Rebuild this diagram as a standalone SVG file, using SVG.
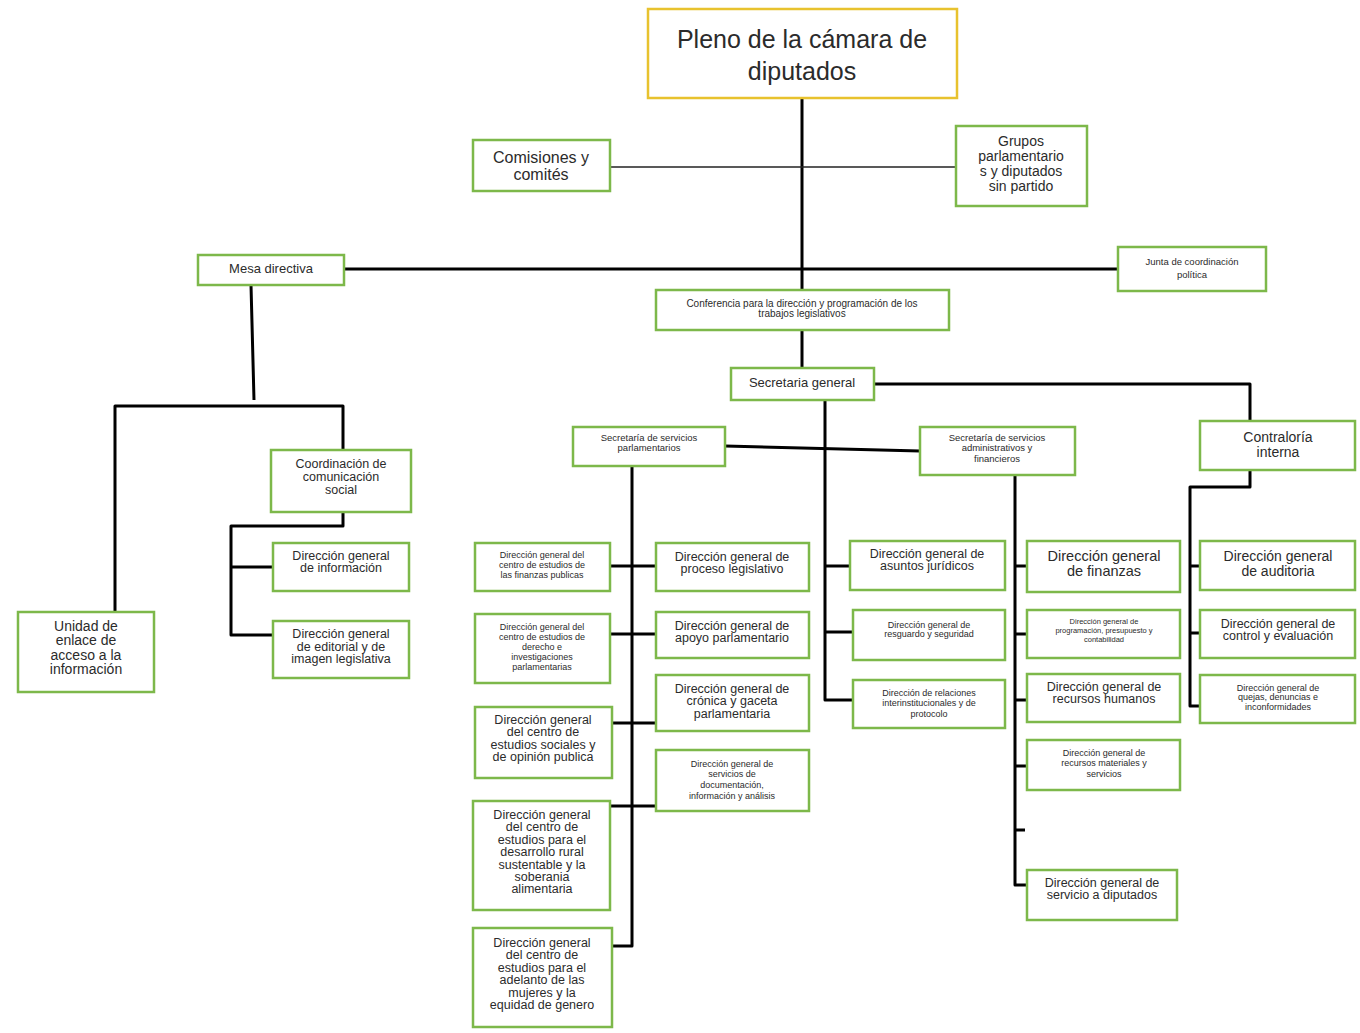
<svg xmlns="http://www.w3.org/2000/svg" width="1360" height="1033" viewBox="0 0 1360 1033">
<style>
.b{fill:#fff;stroke:#7db84a;stroke-width:2.5}
.y{fill:#fff;stroke:#e8c22e;stroke-width:2.5}
text{font-family:"Liberation Sans",Arial,sans-serif;fill:#2b2b2b;text-anchor:middle}
.c{fill:none;stroke:#000;stroke-width:3;stroke-linejoin:round}
.t{fill:none;stroke:#222;stroke-width:1.5}
</style>
<rect width="1360" height="1033" fill="#fff"/>
<g id="connectors">
<path class="c" d="M802 98V290M802 330V368"/>
<path class="t" d="M610 167H956"/>
<path class="c" d="M344 269H1118"/>
<path class="c" d="M874 384H1250V421"/>
<path class="c" d="M1250 470V487H1190V706H1200M1190 566H1200M1190 633H1200"/>
<path class="c" d="M825 400V700H853M825 566H850M825 632H853"/>
<path class="c" d="M725 446L920 451"/>
<path class="c" d="M632 466V946H612M610 566H656M610 634H656M612 723H656M610 806H656"/>
<path class="c" d="M1015 475V885H1027M1015 566H1027M1015 634H1027M1015 700H1027M1015 766H1027M1015 830H1025"/>
<path class="c" d="M251 285L254 400M115 612V406H343V450"/>
<path class="c" d="M343 512V526H231V635H273M231 567H273"/>
</g>
<g id="pleno"><rect class="y" x="648" y="9" width="309" height="89"/><text font-size="25" x="802" y="48">Pleno de la cámara de</text><text font-size="25" x="802" y="80">diputados</text></g>
<g id="comisiones"><rect class="b" x="473" y="140" width="137" height="51"/><text font-size="16" x="541" y="163">Comisiones y</text><text font-size="16" x="541" y="180">comités</text></g>
<g id="grupos"><rect class="b" x="956" y="126" width="131" height="80"/><text font-size="14" x="1021" y="146">Grupos</text><text font-size="14" x="1021" y="161">parlamentario</text><text font-size="14" x="1021" y="176">s y diputados</text><text font-size="14" x="1021" y="191">sin partido</text></g>
<g id="mesa"><rect class="b" x="198" y="255" width="146" height="30"/><text font-size="13" x="271" y="273">Mesa directiva</text></g>
<g id="junta"><rect class="b" x="1118" y="247" width="148" height="44"/><text font-size="9.5" x="1192" y="265">Junta de coordinación</text><text font-size="9.5" x="1192" y="278">política</text></g>
<g id="conferencia"><rect class="b" x="656" y="290" width="293" height="40"/><text font-size="10" x="802" y="307">Conferencia  para la dirección  y programación  de los</text><text font-size="10" x="802" y="317">trabajos  legislativos</text></g>
<g id="secgeneral"><rect class="b" x="731" y="368" width="143" height="32"/><text font-size="13" x="802" y="387">Secretaria general</text></g>
<g id="secparl"><rect class="b" x="573" y="427" width="152" height="39"/><text font-size="9.5" x="649" y="441">Secretaría  de servicios</text><text font-size="9.5" x="649" y="451">parlamentarios</text></g>
<g id="secadmin"><rect class="b" x="920" y="427" width="155" height="48"/><text font-size="9.5" x="997" y="441">Secretaría  de servicios</text><text font-size="9.5" x="997" y="451">administrativos  y</text><text font-size="9.5" x="997" y="462">financieros</text></g>
<g id="contraloria"><rect class="b" x="1200" y="421" width="155" height="49"/><text font-size="14" x="1278" y="442">Contraloría</text><text font-size="14" x="1278" y="457">interna</text></g>
<g id="auditoria"><rect class="b" x="1200" y="541" width="155" height="49"/><text font-size="14" x="1278" y="561">Dirección general</text><text font-size="14" x="1278" y="576">de auditoria</text></g>
<g id="control"><rect class="b" x="1200" y="610" width="155" height="48"/><text font-size="12.5" x="1278" y="628">Dirección general de</text><text font-size="12.5" x="1278" y="640">control y evaluación</text></g>
<g id="quejas"><rect class="b" x="1200" y="675" width="155" height="48"/><text font-size="9" x="1278" y="691">Dirección  general de</text><text font-size="9" x="1278" y="700">quejas,  denuncias  e</text><text font-size="9" x="1278" y="710">inconformidades</text></g>
<g id="juridicos"><rect class="b" x="850" y="541" width="155" height="49"/><text font-size="12.5" x="927" y="558">Dirección general de</text><text font-size="12.5" x="927" y="570">asuntos jurídicos</text></g>
<g id="resguardo"><rect class="b" x="853" y="610" width="152" height="50"/><text font-size="9" x="929" y="628">Dirección  general  de</text><text font-size="9" x="929" y="637">resguardo  y seguridad</text></g>
<g id="relaciones"><rect class="b" x="853" y="680" width="152" height="48"/><text font-size="9" x="929" y="696">Dirección  de relaciones</text><text font-size="9" x="929" y="706">interinstitucionales  y de</text><text font-size="9" x="929" y="717">protocolo</text></g>
<g id="finanzas"><rect class="b" x="1027" y="541" width="153" height="51"/><text font-size="14.5" x="1104" y="561">Dirección general</text><text font-size="14.5" x="1104" y="576">de finanzas</text></g>
<g id="programacion"><rect class="b" x="1027" y="610" width="153" height="48"/><text font-size="7.5" x="1104" y="624">Dirección  general de</text><text font-size="7.5" x="1104" y="633">programación,  presupuesto  y</text><text font-size="7.5" x="1104" y="642">contabilidad</text></g>
<g id="rrhh"><rect class="b" x="1027" y="674" width="153" height="48"/><text font-size="12.5" x="1104" y="691">Dirección general de</text><text font-size="12.5" x="1104" y="703">recursos humanos</text></g>
<g id="materiales"><rect class="b" x="1027" y="740" width="153" height="50"/><text font-size="9" x="1104" y="756">Dirección  general  de</text><text font-size="9" x="1104" y="766">recursos  materiales  y</text><text font-size="9" x="1104" y="777">servicios</text></g>
<g id="servicio"><rect class="b" x="1027" y="870" width="150" height="50"/><text font-size="12.5" x="1102" y="887">Dirección general de</text><text font-size="12.5" x="1102" y="899">servicio a diputados</text></g>
<g id="finpub"><rect class="b" x="475" y="543" width="135" height="48"/><text font-size="9" x="542" y="558">Dirección  general  del</text><text font-size="9" x="542" y="568">centro  de estudios  de</text><text font-size="9" x="542" y="578">las finanzas publicas</text></g>
<g id="derecho"><rect class="b" x="475" y="614" width="135" height="69"/><text font-size="9" x="542" y="630">Dirección  general  del</text><text font-size="9" x="542" y="640">centro  de estudios  de</text><text font-size="9" x="542" y="650">derecho  e</text><text font-size="9" x="542" y="660">investigaciones</text><text font-size="9" x="542" y="670">parlamentarias</text></g>
<g id="sociales"><rect class="b" x="475" y="707" width="137" height="71"/><text font-size="12.5" x="543" y="724">Dirección general</text><text font-size="12.5" x="543" y="736">del centro de</text><text font-size="12.5" x="543" y="749">estudios sociales y</text><text font-size="12.5" x="543" y="761">de opinión publica</text></g>
<g id="rural"><rect class="b" x="473" y="801" width="137" height="109"/><text font-size="12.5" x="542" y="819">Dirección general</text><text font-size="12.5" x="542" y="831">del centro de</text><text font-size="12.5" x="542" y="844">estudios para el</text><text font-size="12.5" x="542" y="856">desarrollo rural</text><text font-size="12.5" x="542" y="869">sustentable y la</text><text font-size="12.5" x="542" y="881">soberania</text><text font-size="12.5" x="542" y="893">alimentaria</text></g>
<g id="mujeres"><rect class="b" x="473" y="928" width="139" height="99"/><text font-size="12.5" x="542" y="947">Dirección general</text><text font-size="12.5" x="542" y="959">del centro de</text><text font-size="12.5" x="542" y="972">estudios para el</text><text font-size="12.5" x="542" y="984">adelanto de las</text><text font-size="12.5" x="542" y="997">mujeres y la</text><text font-size="12.5" x="542" y="1009">equidad de genero</text></g>
<g id="proceso"><rect class="b" x="656" y="543" width="153" height="48"/><text font-size="12.5" x="732" y="561">Dirección general de</text><text font-size="12.5" x="732" y="573">proceso legislativo</text></g>
<g id="apoyo"><rect class="b" x="656" y="612" width="153" height="46"/><text font-size="12.5" x="732" y="630">Dirección general de</text><text font-size="12.5" x="732" y="642">apoyo parlamentario</text></g>
<g id="cronica"><rect class="b" x="656" y="675" width="153" height="56"/><text font-size="12.5" x="732" y="693">Dirección general de</text><text font-size="12.5" x="732" y="705">crónica y gaceta</text><text font-size="12.5" x="732" y="718">parlamentaria</text></g>
<g id="documentacion"><rect class="b" x="656" y="750" width="153" height="61"/><text font-size="9" x="732" y="767">Dirección  general  de</text><text font-size="9" x="732" y="777">servicios  de</text><text font-size="9" x="732" y="788">documentación,</text><text font-size="9" x="732" y="799">información  y análisis</text></g>
<g id="coordinacion"><rect class="b" x="271" y="450" width="140" height="62"/><text font-size="12.5" x="341" y="468">Coordinación de</text><text font-size="12.5" x="341" y="481">comunicación</text><text font-size="12.5" x="341" y="494">social</text></g>
<g id="informacion"><rect class="b" x="273" y="543" width="136" height="48"/><text font-size="12.5" x="341" y="560">Dirección general</text><text font-size="12.5" x="341" y="572">de información</text></g>
<g id="editorial"><rect class="b" x="273" y="621" width="136" height="57"/><text font-size="12.5" x="341" y="638">Dirección general</text><text font-size="12.5" x="341" y="651">de editorial y de</text><text font-size="12.5" x="341" y="663">imagen legislativa</text></g>
<g id="unidad"><rect class="b" x="18" y="612" width="136" height="80"/><text font-size="14" x="86" y="631">Unidad de</text><text font-size="14" x="86" y="645">enlace de</text><text font-size="14" x="86" y="660">acceso a la</text><text font-size="14" x="86" y="674">información</text></g>
</svg>
